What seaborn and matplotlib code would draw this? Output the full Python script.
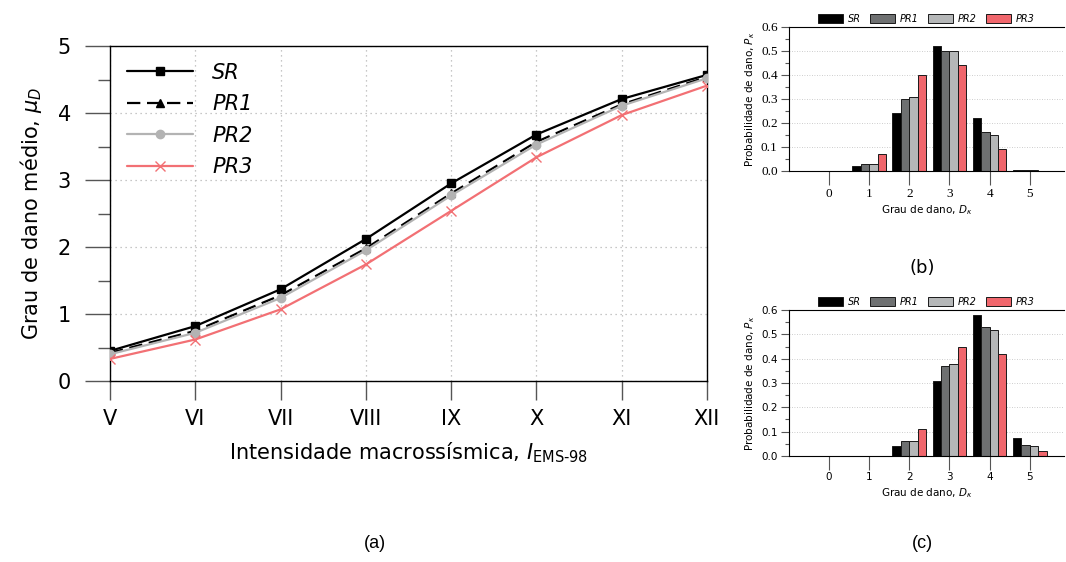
import numpy as np
import pandas as pd
import matplotlib
matplotlib.use('Agg')
import matplotlib.pyplot as plt
from matplotlib.ticker import MultipleLocator
import seaborn as sns

sns.set_theme(style='white')
plt.rcParams['font.family'] = ['DejaVu Sans']
plt.rcParams['mathtext.fontset'] = 'dejavusans'
plt.rcParams['text.color'] = 'black'
plt.rcParams['axes.labelcolor'] = 'black'
plt.rcParams['xtick.labelcolor'] = 'black'
plt.rcParams['ytick.labelcolor'] = 'black'

# ---------------------------------------------------------------------------
# data
# ---------------------------------------------------------------------------
intensity = [5, 6, 7, 8, 9, 10, 11, 12]
intensity_labels = ['V', 'VI', 'VII', 'VIII', 'IX', 'X', 'XI', 'XII']

mu_sr = [0.45, 0.82, 1.37, 2.12, 2.95, 3.68, 4.21, 4.57]
mu_pr1 = [0.42, 0.75, 1.28, 1.98, 2.80, 3.57, 4.13, 4.54]
mu_pr2 = [0.40, 0.72, 1.24, 1.95, 2.77, 3.53, 4.11, 4.52]
mu_pr3 = [0.33, 0.62, 1.07, 1.74, 2.54, 3.34, 3.97, 4.41]

grades = ['0', '1', '2', '3', '4', '5']
scenarios = ['SR', 'PR1', 'PR2', 'PR3']
prob_ticks = [0.0, 0.1, 0.2, 0.3, 0.4, 0.5, 0.6]

pk_b_sr = [0.0, 0.02, 0.24, 0.52, 0.22, 0.003]
pk_b_pr1 = [0.0, 0.03, 0.30, 0.50, 0.16, 0.002]
pk_b_pr2 = [0.0, 0.03, 0.31, 0.50, 0.15, 0.002]
pk_b_pr3 = [0.0, 0.07, 0.40, 0.44, 0.09, 0.001]

pk_c_sr = [0.0, 0.0, 0.04, 0.31, 0.58, 0.072]
pk_c_pr1 = [0.0, 0.0, 0.06, 0.37, 0.53, 0.046]
pk_c_pr2 = [0.0, 0.0, 0.06, 0.38, 0.52, 0.042]
pk_c_pr3 = [0.0, 0.0, 0.11, 0.45, 0.42, 0.018]

# ---------------------------------------------------------------------------
# styles
# ---------------------------------------------------------------------------
line_styles = {
    'SR': dict(color='black', ls='-', marker='s', ms=6, mec='black', mfc='black'),
    'PR1': dict(color='black', ls=(0, (6, 3)), marker='^', ms=6, mec='black', mfc='black'),
    'PR2': dict(color='#b3b3b3', ls='-', marker='o', ms=6, mec='#b3b3b3', mfc='#b3b3b3'),
    'PR3': dict(color='#f27074', ls='-', marker='x', ms=7, mec='#f27074', mfc='none'),
}
bar_colors = ['#000000', '#6e7071', '#b5b7b8', '#f0666c']

fig = plt.figure(figsize=(10.66, 5.62), dpi=100)

# ---------------------------------------------------------------------------
# (a) mean damage grade
# ---------------------------------------------------------------------------
ax = fig.add_axes([0.1032, 0.322, 0.560, 0.596])
series = {'SR': mu_sr, 'PR1': mu_pr1, 'PR2': mu_pr2, 'PR3': mu_pr3}
for name, vals in series.items():
    st = line_styles[name]
    sns.lineplot(x=intensity, y=vals, ax=ax, color=st['color'], linestyle=st['ls'],
                 linewidth=1.6, marker=st['marker'], markersize=st['ms'],
                 markeredgecolor=st['mec'], markerfacecolor=st['mfc'],
                 markeredgewidth=1.0, label=name, zorder=3)

ax.set_xlim(5, 12)
ax.set_ylim(0, 5)
ax.set_xticks(intensity)
ax.set_xticklabels(intensity_labels)
ax.yaxis.set_major_locator(MultipleLocator(1))
ax.yaxis.set_minor_locator(MultipleLocator(0.5))
ax.grid(True, which='major', linestyle=(0, (1, 3)), color='#b5b5b5', linewidth=0.9)
for s in ax.spines.values():
    s.set_color('black')
    s.set_linewidth(1.0)
ax.tick_params(axis='y', which='major', direction='out', length=18, width=1.0,
               color='#555555', labelsize=15, pad=10, left=True, right=False)
ax.tick_params(axis='y', which='minor', direction='out', length=9, width=1.0,
               color='#555555', left=True, right=False)
ax.tick_params(axis='x', which='major', direction='out', length=14, width=1.0,
               color='#555555', labelsize=15, pad=6, bottom=True)
ax.set_xlabel('Intensidade macrossísmica, $I_{\\mathrm{EMS\\text{-}98}}$', fontsize=15, labelpad=8)
ax.set_ylabel('Grau de dano médio, $\\mu_D$', fontsize=15, labelpad=10)

leg = ax.legend(loc='upper left', frameon=False, fontsize=15, handlelength=3.2,
                handletextpad=0.9, labelspacing=0.55, borderaxespad=0.4)
for t in leg.get_texts():
    t.set_fontstyle('italic')

fig.text(0.352, 0.025, '(a)', fontsize=13, family='Liberation Sans', ha='center')

# ---------------------------------------------------------------------------
# (b) and (c) damage probability bars
# ---------------------------------------------------------------------------
def bar_panel(rect, sr, pr1, pr2, pr3, serif_ticks):
    bx = fig.add_axes(rect)
    df = pd.DataFrame({
        'grade': grades * 4,
        'scenario': np.repeat(scenarios, len(grades)),
        'pk': sr + pr1 + pr2 + pr3,
    })
    sns.barplot(data=df, x='grade', y='pk', hue='scenario', hue_order=scenarios,
                palette=bar_colors, width=0.84, edgecolor='#1a1a1a', linewidth=0.7,
                ax=bx, saturation=1)
    bx.set_xlim(-1, 5.85)
    bx.set_ylim(0, 0.6)
    bx.yaxis.set_minor_locator(MultipleLocator(0.05))
    bx.yaxis.grid(True, which='major', linestyle=(0, (1, 2)), color='#bdbdbd', linewidth=0.6)
    bx.set_axisbelow(True)
    for s in bx.spines.values():
        s.set_color('black')
        s.set_linewidth(0.8)
    bx.spines['right'].set_visible(False)
    fam = 'Liberation Serif' if serif_ticks else 'DejaVu Sans'
    size = 9.5 if serif_ticks else 7.5
    bx.set_yticks(prob_ticks)
    bx.set_yticklabels([f'{v:.1f}' for v in prob_ticks], family=fam, fontsize=size)
    bx.set_xticks(range(len(grades)))
    bx.set_xticklabels(grades, family=fam, fontsize=size)
    bx.tick_params(axis='y', which='major', direction='out', length=6, width=0.8,
                   color='#555555', pad=2, left=True)
    bx.tick_params(axis='y', which='minor', direction='out', length=3, width=0.8,
                   color='#555555', left=True)
    bx.tick_params(axis='x', which='major', direction='out', length=10, width=0.8,
                   color='#555555', pad=2, bottom=True)
    bx.set_xlabel('Grau de dano, $D_\\kappa$', fontsize=7.5, labelpad=3)
    bx.set_ylabel('Probabilidade de dano, $P_\\kappa$', fontsize=7.5, labelpad=3)
    lg = bx.legend(loc='lower center', bbox_to_anchor=(0.50, 0.99), ncol=4, frameon=False,
                   fontsize=7, handlelength=2.6, handleheight=1.0, columnspacing=0.9,
                   handletextpad=0.5, borderaxespad=0.1)
    for t in lg.get_texts():
        t.set_fontstyle('italic')
    return bx

bar_panel([0.740, 0.696, 0.258, 0.256], pk_b_sr, pk_b_pr1, pk_b_pr2, pk_b_pr3, True)
bar_panel([0.740, 0.189, 0.258, 0.259], pk_c_sr, pk_c_pr1, pk_c_pr2, pk_c_pr3, False)

fig.text(0.865, 0.515, '(b)', fontsize=13, ha='center')
fig.text(0.865, 0.025, '(c)', fontsize=13, family='Liberation Sans', ha='center')

fig.savefig('out.png', dpi=100)
